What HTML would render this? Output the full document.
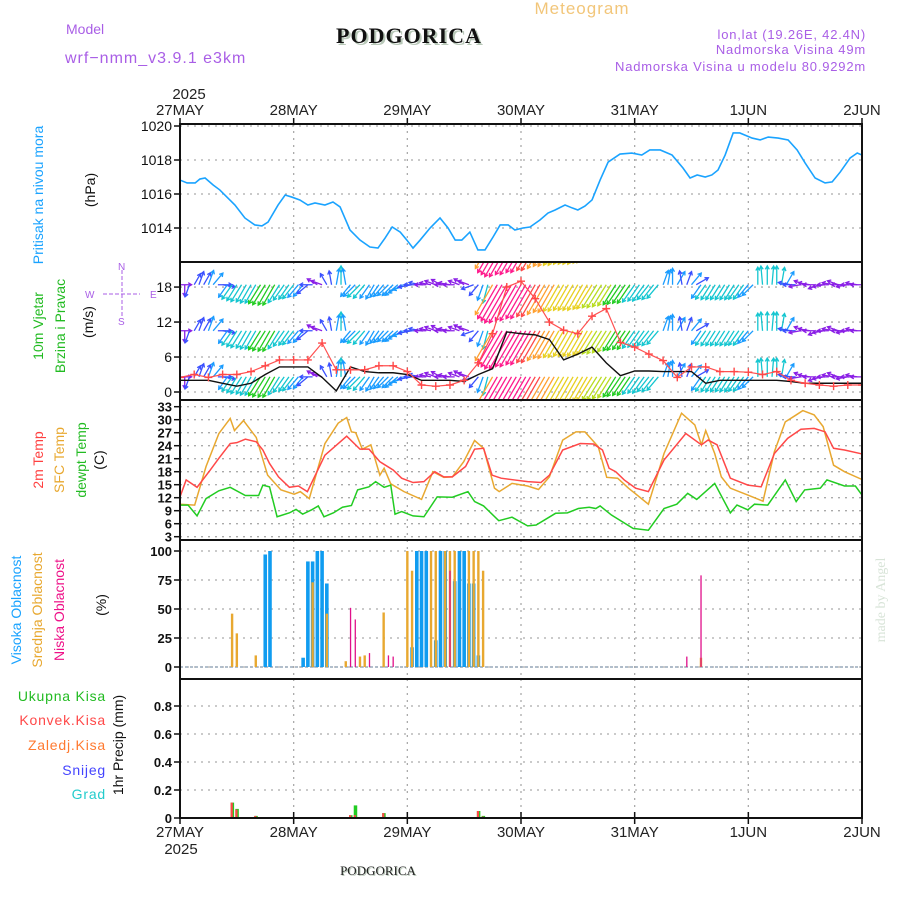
<!DOCTYPE html>
<html><head><meta charset="utf-8"><style>
html,body{margin:0;padding:0;background:#fff;}
svg{display:block;font-family:"Liberation Sans",sans-serif;}
</style></head><body>
<svg id="chart" width="900" height="900" viewBox="0 0 900 900" xmlns="http://www.w3.org/2000/svg">
<rect width="900" height="900" fill="#fff"/>
<g>
<text x="582" y="14" font-size="17" fill="#f2c67a" text-anchor="middle" letter-spacing="1">Meteogram</text>
<text x="66" y="34" font-size="14" fill="#a95ee6">Model</text>
<text x="409" y="43" font-size="22" font-weight="bold" font-family="Liberation Serif,serif" fill="#b8c8b8" text-anchor="middle" letter-spacing="1" transform="translate(2,2)">PODGORICA</text>
<text x="409" y="43" font-size="22" font-weight="bold" font-family="Liberation Serif,serif" fill="#111" text-anchor="middle" letter-spacing="1">PODGORICA</text>
<text x="65" y="63" font-size="16" fill="#a95ee6" letter-spacing="1">wrf−nmm_v3.9.1 e3km</text>
<text x="866" y="39" font-size="13" fill="#a95ee6" text-anchor="end" letter-spacing="0.8">lon,lat (19.26E, 42.4N)</text>
<text x="866" y="54" font-size="13" fill="#a95ee6" text-anchor="end" letter-spacing="0.8">Nadmorska Visina 49m</text>
<text x="866" y="71" font-size="13" fill="#a95ee6" text-anchor="end" letter-spacing="0.8">Nadmorska Visina u modelu 80.9292m</text>
</g>
<g font-size="14">
<text transform="translate(43,195) rotate(-90)" text-anchor="middle" fill="#1aa3ff">Pritisak na nivou mora</text>
<text transform="translate(95,190) rotate(-90)" text-anchor="middle" fill="#111">(hPa)</text>
<text transform="translate(43,326) rotate(-90)" text-anchor="middle" fill="#22bb22">10m Vjetar</text>
<text transform="translate(65,326) rotate(-90)" text-anchor="middle" fill="#22bb22">Brzina i Pravac</text>
<text transform="translate(93,322) rotate(-90)" text-anchor="middle" fill="#111">(m/s)</text>
<g fill="#a95ee6" stroke="#a95ee6" font-size="10">
<line x1="103" y1="294" x2="140" y2="294" stroke-dasharray="4,2"/>
<line x1="122" y1="270" x2="122" y2="318" stroke-dasharray="4,2"/>
<text x="85" y="298" stroke="none">W</text><text x="150" y="298" stroke="none">E</text>
<text x="118" y="270" stroke="none">N</text><text x="118" y="325" stroke="none">S</text>
</g>
<text transform="translate(43,460) rotate(-90)" text-anchor="middle" fill="#ff4040">2m Temp</text>
<text transform="translate(64,460) rotate(-90)" text-anchor="middle" fill="#e8a830">SFC Temp</text>
<text transform="translate(86,460) rotate(-90)" text-anchor="middle" fill="#22bb22">dewpt Temp</text>
<text transform="translate(104,460) rotate(-90)" text-anchor="middle" fill="#111">(C)</text>
<text transform="translate(21,610) rotate(-90)" text-anchor="middle" fill="#1aa3ff">Visoka Oblacnost</text>
<text transform="translate(42,610) rotate(-90)" text-anchor="middle" fill="#e8a830">Srednja Oblacnost</text>
<text transform="translate(64,610) rotate(-90)" text-anchor="middle" fill="#ee1188">Niska Oblacnost</text>
<text transform="translate(106,605) rotate(-90)" text-anchor="middle" fill="#111">(%)</text>
<text x="106" y="701" text-anchor="end" fill="#22bb22" letter-spacing="0.8">Ukupna Kisa</text>
<text x="106" y="725" text-anchor="end" fill="#ff4848" letter-spacing="0.8">Konvek.Kisa</text>
<text x="106" y="750" text-anchor="end" fill="#ff7a30" letter-spacing="0.8">Zaledj.Kisa</text>
<text x="106" y="775" text-anchor="end" fill="#4444ff" letter-spacing="0.8">Snijeg</text>
<text x="106" y="799" text-anchor="end" fill="#22cccc" letter-spacing="0.8">Grad</text>
<text transform="translate(123,745) rotate(-90)" text-anchor="middle" fill="#111">1hr Precip (mm)</text>
</g>
<text transform="translate(885,600) rotate(-90)" text-anchor="middle" font-family="Liberation Serif,serif" font-size="14" fill="#d8e4d8">made by Angel</text>
<text x="378" y="875" text-anchor="middle" font-family="Liberation Serif,serif" font-size="13" fill="#b8c8b8" transform="translate(1,1)">PODGORICA</text>
<text x="378" y="875" text-anchor="middle" font-family="Liberation Serif,serif" font-size="13" fill="#222">PODGORICA</text>
<g id="plot"></g>
</svg>
<script>
const dayLabels = ["27MAY","28MAY","29MAY","30MAY","31MAY","1JUN","2JUN"];
const pressTicks = [1014,1016,1018,1020];
const windTicks = [0,6,12,18];
const tempTicks = [3,6,9,12,15,18,21,24,27,30,33];
const cloudTicks = [0,25,50,75,100];
const precipTicks = [0,0.2,0.4,0.6,0.8];

const pressHours = [0,1.5,3.2,4.2,5.3,7,8.4,11.6,13.7,15.8,17.3,18.6,20.7,22.2,23.6,25.3,27,28.5,30.6,32.3,33.8,35.9,38,40.1,41.8,43.3,44.8,46.5,47.9,49.2,50.7,52.8,54.9,56.6,58.1,59.5,61.2,62.9,64.4,66.1,67.6,69.3,70.7,72.4,73.9,76,77.7,79.2,81.3,82.8,84,85.5,87,88.7,90.4,92.9,95.4,97.5,99.2,101.4,103.9,106.2,107.7,109.2,110.9,112.3,113.6,115.1,116.8,118.2,120.8,122.5,124.2,126.3,128.4,130.3,132,134.1,136.2,137.7,139.4,141.5,143,144];
const pressVals = [1016.82,1016.65,1016.65,1016.88,1016.94,1016.53,1016.24,1015.35,1014.59,1014.18,1014.12,1014.35,1015.35,1015.94,1015.82,1015.65,1015.35,1015.47,1015.35,1015.53,1015.24,1013.88,1013.29,1012.88,1012.82,1013.41,1014.06,1013.76,1013.29,1012.82,1013.29,1014.0,1014.59,1014.0,1013.29,1013.29,1013.76,1012.71,1012.71,1013.47,1014.18,1014.18,1013.88,1014.0,1014.06,1014.47,1014.88,1015.06,1015.35,1015.18,1015.06,1015.29,1015.65,1016.82,1017.88,1018.35,1018.41,1018.29,1018.59,1018.59,1018.29,1017.53,1016.94,1017.12,1017.0,1017.12,1017.41,1018.29,1019.59,1019.59,1019.29,1019.18,1019.35,1019.29,1019.18,1018.59,1017.82,1016.94,1016.65,1016.71,1017.29,1018.12,1018.41,1018.29];

const t2Hours = [0,1.3,3.6,6.4,8.2,10.6,12,13.8,16.1,17.5,18.9,20.8,23.1,25,26.9,30.6,35.2,38,39.9,42.2,45,46.8,49.2,51.5,53.8,55.7,57.5,60.3,62.2,64.1,65.9,67.8,70.6,73.4,76.2,78,80.8,84.5,87.3,89.2,90.6,92,93.8,96.2,98.9,102.2,106.8,110.1,111.5,113.4,116.2,119.9,122.7,125.5,128.3,131.1,133.9,136.2,138,140.3,144];
const t2Vals = [12.2,16.1,14.4,18.4,21.1,24.5,24.7,25.5,24.9,23.0,19.9,16.8,14.4,14.7,13.4,21.8,26.2,23.2,23.2,20.3,18.4,16.5,15.5,15.7,18.0,16.8,16.8,19.2,23.2,23.4,17.2,16.5,16.1,15.7,15.5,17.2,23.0,24.5,24.4,23.0,18.8,18.0,16.1,14.2,13.4,20.7,26.8,24.2,25.3,24.2,16.5,14.9,14.5,22.2,25.7,27.8,28.0,27.2,23.4,23.0,22.1];
const sfcHours = [0,3.1,5.5,8.2,10.6,11.5,13.4,16.1,18.5,21.3,24.1,25.4,27.3,30.6,33.4,35.2,36.2,37.1,38.5,40.3,42.2,43.1,44.5,47.3,51,53.4,55.7,57.5,59.9,62.2,64.1,66.4,67.4,70.1,73.4,75.7,78,80.8,83.6,85.5,88.3,90.1,92.4,94.7,98.9,102.2,105.9,108.7,110.1,111,112.9,114.3,116.2,119.9,123.1,125.5,127.8,130.1,131.5,133.9,135.8,138,140.3,144];
const sfcVals = [10.5,10.3,19.2,26.8,30.3,27.5,29.8,25.9,17.2,13.8,12.8,13.4,11.8,24.5,29.2,30.5,27.2,27.0,23.2,24.2,17.2,18.8,15.2,13.4,11.6,18.0,16.7,16.8,20.3,25.2,23.4,14.2,13.4,15.3,14.7,13.9,16.8,25.3,27.2,27.2,23.8,16.7,16.5,14.2,10.5,22.2,31.5,28.8,24.2,27.5,22.2,16.8,14.2,12.6,11.2,22.6,29.5,31.1,32.1,31.1,28.4,19.5,18.0,16.2];
const dewHours = [0,1.7,3.6,5.5,8.2,10.6,13.8,16.6,17.5,18.9,20.5,23.1,24.5,25.9,27.8,29.2,30.4,32.4,34.3,36.2,37.5,39.9,41.3,43.1,44.5,45.4,46.8,49.2,51.5,54.3,57.5,60.8,62.2,64.1,67.3,70.1,73.4,75.2,79.3,81.8,84.1,86.4,87.8,88.7,91.1,95.7,98.9,102.2,104.9,107.2,109.1,112.9,116.2,117.6,119.9,121.3,124.1,127.8,130.1,131.9,135.2,136.6,140.3,142.6,144];
const dewVals = [10.3,10.3,7.8,11.8,13.6,14.4,12.5,12.5,14.9,14.5,7.6,8.5,9.3,8.2,9.2,10.1,7.6,8.5,9.8,10.2,13.8,14.5,15.7,14.4,14.9,8.2,8.8,7.8,7.6,12.2,12.1,13.4,11.1,10.1,6.7,7.5,5.5,5.7,8.4,8.5,9.5,9.8,9.5,10.1,8.0,4.9,4.5,9.5,10.5,13.0,11.6,15.3,8.5,10.3,9.2,10.5,10.3,16.1,11.1,13.8,14.2,16.1,14.7,14.7,12.6];

const windSpeed = [1.5,1.5,2,2,2.5,2.5,3,3,2.5,2,
 3,4,4.5,5,5,5.5,5.5,6,6.5,6.5,6.5,5.5,4.5,4,4,3.5,
 3,2.5,2,1.5,1.5,2,2.5,3.5,4.5,3.5,
 3,3.5,4,4,3.5,3.5,3,3,3,3,3.5,3.5,3,2.5,2,2,
 1.5,1.5,1.5,1,1,1.5,1.5,1.5,1.5,1.5,2,2.5,
 3.5,4.5,
 11,13,14,15,15,14,14,13,13,12,12,11,
 10,10,9.5,9.5,9,9,9,9,8.5,8.5,8,8,7.5,7,
 6.5,6.5,6,6,5.5,
 5,5,4.5,4.5,4,
 3,3,3.5,3,2.5,2.5,3,2.5,
 3.5,4,4,4,4,4,4,4,4,4,3.5,3,
 4,4.5,4.5,4.5,4.5,4,3,
 2,2,1.5,1.5,1.5,1.5,1.5,1.5,1.5,1.5,1.5,1.5,1.5,1.5,1.5,1.5];
const windDir = [90,180,200,30,20,30,20,40,90,100,
 215,215,212,212,210,210,210,212,212,210,210,212,215,215,218,220,
 220,230,270,300,290,330,350,10,0,350,
 220,225,225,220,215,210,215,220,225,225,230,240,250,260,270,280,
 270,280,290,300,270,280,270,290,300,290,250,220,
 200,195,
 210,210,210,210,210,210,210,210,210,210,210,210,
 210,210,210,210,210,210,210,210,210,212,212,212,212,212,
 212,214,214,214,215,
 215,215,218,218,220,
 20,10,0,30,350,20,40,60,
 215,215,212,212,212,212,212,212,215,215,220,225,
 0,355,0,5,0,10,30,
 280,270,260,290,280,270,250,260,270,280,290,270,260,270,280,270];
const windLineVals = [2,2,2,1.5,1,1.5,3,4.3,4.3,4.3,2.5,0.2,4.3,3.5,3.3,3.3,3,2,2,2,1.8,3,4,10.3,10,9.8,9,5.5,6.5,7.7,5,2.8,3.6,3.6,3.5,3.5,3.5,1.5,2,2,2,2,2,1.8,1.5,1.5,1.5,1.5,1.5];
const gustVals = [2.5,3,2.5,3,3,3.5,4.5,5.5,5.5,5.5,8.4,3.8,3.8,3.8,4.5,4.5,3.5,1.2,1,1.2,2,5,10,18,19,16,12,10.6,10,13,14.3,8.5,7.7,6.5,5.4,2.5,4.3,4.3,3.5,3.5,3.4,3,3.5,2,1.5,1.2,1,1.2,1.2];
const windRowBase = [2.6,10.5,18.4,26.3];

const highHours = [18,19,26,27,28,29,30,31,49,50,51,52,54,55,56,58,59,60,61,62,63];
const highVals = [97,100,8,91,91,100,100,72,17,100,100,100,23,100,100,74,100,100,72,72,10];
const midHours = [11,12,16,28,31,35,38,39,43,48,49,53,54,56,57,58,61,62,63,64,110];
const midVals = [46,29,10,73,46,5,9,10,47,100,83,100,100,100,100,100,100,100,100,83,8];
const lowHours = [36,37,40,44,45,57,107,110];
const lowVals = [51,41,12,10,9,83,9,79];

const rainHours = [11,12,16,36,37,43,63,64];
const totalRain = [0.11,0.065,0.015,0.02,0.09,0.035,0.05,0.015];
const convRain = [0.11,0.06,0.015,0.02,0.02,0.035,0.05,0.01];

const NS = "http://www.w3.org/2000/svg";
const plot = document.getElementById("plot");
function mk(tag, attrs, parent){ const e=document.createElementNS(NS,tag); for(const k in attrs) e.setAttribute(k,attrs[k]); (parent||plot).appendChild(e); return e; }
const X0=180, X1=862, HRS=144;
const xH = h => X0 + h*(X1-X0)/HRS;
const yP = p => 126 + (1020-p)*17;
const yW = v => 392 - v*5.83;
const yT = t => 406.7 + (33-t)*4.3333;
const yC = c => 667 - c*1.16;
const yR = r => 818 - r*140;
const panels = [[124,262],[262,400],[400,540],[540,679],[679,818]];

const grid = mk("g",{});


function hgrid(y){ mk("line",{x1:X0,x2:X1,y1:y,y2:y,stroke:"#aaa","stroke-width":1.3,"stroke-dasharray":"2,5"},grid); }
function vgrid(top,bot){ for(let d=1;d<6;d++){ const x=xH(d*24); mk("line",{x1:x,x2:x,y1:top,y2:bot,stroke:"#aaa","stroke-width":1.3,"stroke-dasharray":"2,5"},grid);} }
panels.forEach(p=>vgrid(p[0],p[1]));
pressTicks.forEach(v=>hgrid(yP(v)));
windTicks.forEach(v=>hgrid(yW(v)));
tempTicks.forEach(v=>hgrid(yT(v)));
cloudTicks.forEach(v=>hgrid(yC(v)));
precipTicks.slice(1).forEach(v=>hgrid(yR(v)));

const tickG = mk("g",{"font-size":14,fill:"#111","text-anchor":"end"});


function ytick(y,label,fs,bold){ mk("line",{x1:X0-6,x2:X0,y1:y,y2:y,stroke:"#111","stroke-width":1.5},tickG); const t=mk("text",{x:X0-8,y:y+5,"font-size":fs||14,"font-weight":bold?"bold":"normal"},tickG); t.textContent=label; }
pressTicks.forEach(v=>ytick(yP(v),v));
windTicks.forEach(v=>ytick(yW(v),v));
tempTicks.forEach(v=>ytick(yT(v),v,13,true));
cloudTicks.forEach(v=>ytick(yC(v),v,13,true));
precipTicks.forEach(v=>ytick(yR(v),v===0?"0":v.toFixed(1),13,true));

const dateG = mk("g",{"font-size":15,fill:"#222","text-anchor":"middle"});


dayLabels.forEach((d,i)=>{ const x=xH(i*24);
 const a=mk("text",{x:x,y:115},dateG); a.textContent=d;
 const b=mk("text",{x:x,y:837},dateG); b.textContent=d;
 mk("line",{x1:x,x2:x,y1:118,y2:124,stroke:"#111","stroke-width":1.5},dateG);
 mk("line",{x1:x,x2:x,y1:812,y2:824,stroke:"#111","stroke-width":1.5},dateG);
});
const y1=mk("text",{x:189,y:99},dateG); y1.textContent="2025";
const y2=mk("text",{x:181,y:854},dateG); y2.textContent="2025";

const pl = mk("polyline",{points:pressHours.map((h,i)=>xH(h)+","+yP(pressVals[i])).join(" "),fill:"none",stroke:"#1aa3ff","stroke-width":1.6});



mk("clipPath",{id:"windclip"}).appendChild((()=>{const r=document.createElementNS(NS,"rect");r.setAttribute("x",X0);r.setAttribute("y",263);r.setAttribute("width",X1-X0);r.setAttribute("height",136);return r;})());
const windG = mk("g",{"clip-path":"url(#windclip)"});


function wcol(s){ if(s<1.8) return "#8a1ee6"; if(s<3) return "#3a50ff"; if(s<4) return "#1a9cff"; if(s<5.8) return "#14c6d0"; if(s<7) return "#22cc22"; if(s<8.5) return "#b8dc20"; if(s<10) return "#e8d020"; if(s<11.5) return "#ffa030"; if(s<13) return "#ff4848"; return "#ff1a8c"; }
windRowBase.forEach(base=>{
 windSpeed.forEach((s,i)=>{
  const x=xH(i), y=yW(base), L=s*2.4+8, a=windDir[i]*Math.PI/180;
  const ex=x+L*Math.sin(a), ey=y-L*Math.cos(a), c=wcol(s);
  const hx=Math.sin(a), hy=-Math.cos(a);
  const hs=4;
  const p1x=ex-hs*(hx*0.85-hy*0.5), p1y=ey-hs*(hy*0.85+hx*0.5);
  const p2x=ex-hs*(hx*0.85+hy*0.5), p2y=ey-hs*(hy*0.85-hx*0.5);
  const ar=mk("path",{d:`M${x},${y}L${ex},${ey}M${p1x},${p1y}L${ex},${ey}L${p2x},${p2y}`,stroke:c,"stroke-width":1.3,fill:"none"},windG);
  
  
 });
});
const wl = mk("polyline",{points:windLineVals.map((v,i)=>xH(i*3)+","+yW(v)).join(" "),fill:"none",stroke:"#111","stroke-width":1.4},windG);


const gl = mk("polyline",{points:gustVals.map((v,i)=>xH(i*3)+","+yW(v)).join(" "),fill:"none",stroke:"#ff5050","stroke-width":1.2},windG);


gustVals.forEach((v,i)=>{ const x=xH(i*3), y=yW(v);
 const m=mk("path",{d:`M${x-4},${y}H${x+4}M${x},${y-4}V${y+4}`,stroke:"#ff4848","stroke-width":1.4},windG);
 
 
});

[[sfcHours,sfcVals,"#e8a830","sfc-temp-line"],[t2Hours,t2Vals,"#ff4848","temp-2m-line"],[dewHours,dewVals,"#22cc22","dewpoint-line"]].forEach(s=>{
 const l=mk("polyline",{points:s[0].map((h,i)=>xH(h)+","+yT(s[1][i])).join(" "),fill:"none",stroke:s[2],"stroke-width":1.5});
 
 
});

const bl=mk("line",{x1:X0,x2:X1,y1:667,y2:667,stroke:"#9ab","stroke-width":1.5,"stroke-dasharray":"3,2"});


highHours.forEach((h,i)=>{ const r=mk("rect",{x:xH(h)-1.8,y:yC(highVals[i]),width:3.6,height:667-yC(highVals[i]),fill:"#109cf0"});   });
midHours.forEach((h,i)=>{ const r=mk("rect",{x:xH(h)-1.2,y:yC(midVals[i]),width:2.4,height:667-yC(midVals[i]),fill:"#e8a830"});   });
lowHours.forEach((h,i)=>{ const r=mk("rect",{x:xH(h)-0.6,y:yC(lowVals[i]),width:1.3,height:667-yC(lowVals[i]),fill:"#e0108a"});   });

rainHours.forEach((h,i)=>{
 const g=mk("rect",{x:xH(h)-1.5,y:yR(totalRain[i]),width:3.5,height:818-yR(totalRain[i]),fill:"#22cc22"});
 
 
 const r=mk("rect",{x:xH(h)-1.5,y:yR(convRain[i]),width:2.2,height:818-yR(convRain[i]),fill:"#ff4848"});
 
 
});

panels.forEach((p,i)=>{
 const f=mk("rect",{x:X0,y:p[0],width:X1-X0,height:p[1]-p[0],fill:"none",stroke:"#111","stroke-width":2});
 
 
});
</script>
</body></html>
